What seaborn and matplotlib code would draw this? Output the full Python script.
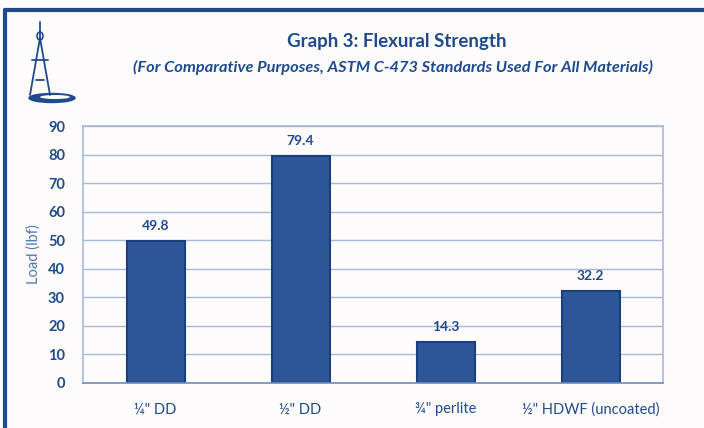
import matplotlib
matplotlib.use("Agg")
import matplotlib.pyplot as plt
from matplotlib.lines import Line2D
from matplotlib.patches import Ellipse
import seaborn as sns
import pandas as pd
import numpy as np

# Flexural strength per material (ASTM C-473)
materials = ['¼" DD', '½" DD', '¾" perlite', '½" HDWF (uncoated)']
loads = [49.8, 79.4, 14.3, 32.2]
y_ticks = [0, 10, 20, 30, 40, 50, 60, 70, 80, 90]

navy = "#1f4b8c"
bar_fill = "#2c5698"
bar_edge = "#1b3f7c"
grid_col = "#a9b9d8"
bg = "#fdfbfc"

sns.set_theme(style="white")
plt.rcParams["font.family"] = ["Lato", "DejaVu Sans"]

df = pd.DataFrame({"material": materials, "load": loads})

fig = plt.figure(figsize=(7.04, 4.28), dpi=100, facecolor=bg)
ax = fig.add_axes([83 / 704, 1 - 383 / 428, 580 / 704, 257 / 428])
ax.set_facecolor(bg)

sns.barplot(data=df, x="material", y="load", ax=ax, width=0.4,
            color=bar_fill, edgecolor=bar_edge, linewidth=1.5, saturation=1)

ax.set_ylim(0, 90)
ax.set_xlim(-0.5, len(materials) - 0.5)
ax.set_yticks(y_ticks)
ax.set_yticklabels([str(t) for t in y_ticks], color=navy, fontsize=10.5,
                   fontweight="bold")
ax.yaxis.grid(True, color=grid_col, linewidth=1)
ax.set_axisbelow(True)

ax.tick_params(axis="y", length=5, width=1, color=grid_col, direction="out", pad=8)
ax.tick_params(axis="x", which="major", length=0, pad=14)
ax.set_xticks(np.arange(-0.5, len(materials)), minor=True)
ax.tick_params(axis="x", which="minor", length=3, width=1, color=grid_col, direction="out")
for lbl in ax.get_xticklabels():
    lbl.set_color(navy)
    lbl.set_fontsize(10.5)

for side in ["left", "right", "top", "bottom"]:
    ax.spines[side].set_color(grid_col)
    ax.spines[side].set_linewidth(1.2)
ax.spines["bottom"].set_color("#6f8cc0")

ax.set_xlabel("")
ax.set_ylabel("Load (lbf)", color="#4a78b6", fontsize=10.5, labelpad=5)

for i, v in enumerate(loads):
    ax.text(i, v + 3.2, f"{v:.1f}", ha="center", va="bottom", color=navy,
            fontsize=10, fontweight="bold")

# Titles
fig.text(397 / 704, 1 - 41 / 428, "Graph 3: Flexural Strength", ha="center",
         va="center", color=navy, fontsize=13.5, fontweight="bold")
fig.text(393 / 704, 1 - 67 / 428,
         "(For Comparative Purposes, ASTM C-473 Standards Used For All Materials)",
         ha="center", va="center", color=navy, fontsize=11.8,
         fontweight="bold", style="italic")

# Page frame along the top and left edges
fig.add_artist(Line2D([5 / 704, 1.0], [1 - 10 / 428, 1 - 10 / 428],
                      transform=fig.transFigure, color=navy, linewidth=3))
fig.add_artist(Line2D([5 / 704, 5 / 704], [0.0, 1 - 10 / 428],
                      transform=fig.transFigure, color=navy, linewidth=3))

# Compass emblem
def px(x, y):
    return x / 704, 1 - y / 428

emblem = [((40, 22), (40, 38)), ((40, 38), (30, 95)), ((40, 38), (50, 95)),
          ((32, 60), (48, 60)), ((36, 80), (44, 80))]
for (a, b) in emblem:
    (x0, y0), (x1, y1) = px(*a), px(*b)
    fig.add_artist(Line2D([x0, x1], [y0, y1], transform=fig.transFigure,
                          color=navy, linewidth=1.3))
fig.add_artist(Ellipse(px(52, 98), 46 / 704, 9 / 428, transform=fig.transFigure,
                       facecolor=navy, edgecolor=navy))
fig.add_artist(Ellipse(px(55, 97), 30 / 704, 4 / 428, transform=fig.transFigure,
                       facecolor=bg, edgecolor="none"))
fig.add_artist(Ellipse(px(40, 36), 6 / 704, 8 / 428, transform=fig.transFigure,
                       facecolor="none", edgecolor=navy, linewidth=1.2))

fig.savefig("out.png", dpi=100, facecolor=bg)
